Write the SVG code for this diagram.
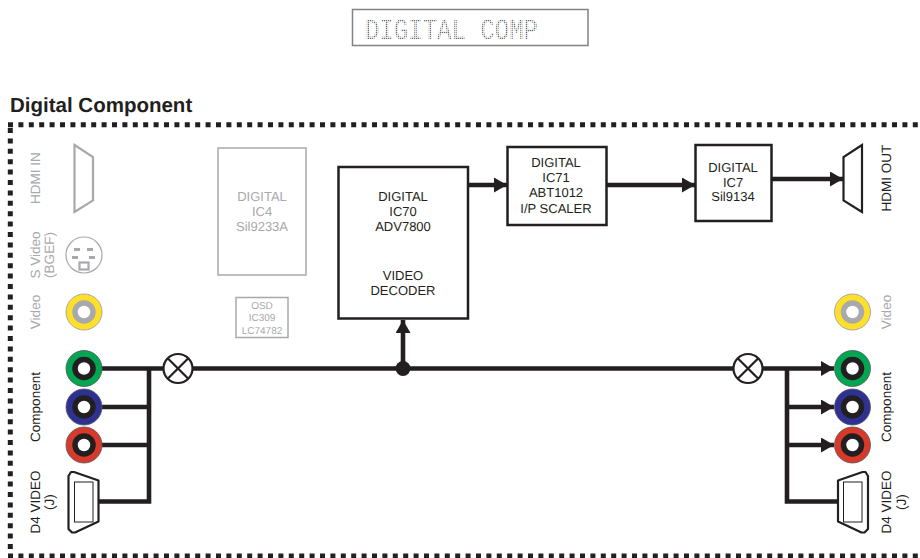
<svg xmlns="http://www.w3.org/2000/svg" width="920" height="558" viewBox="0 0 920 558">
<defs>
<style>
text{font-family:"Liberation Sans",Arial,sans-serif;text-rendering:geometricPrecision}
.k{fill:#231f20}
.g{fill:#a7a9ac}
.t{font-size:13px;text-anchor:middle}
.s{font-size:13.500px;text-anchor:middle}
.box{fill:#fff;stroke:#231f20;stroke-width:2.500}
.gbox{fill:#fff;stroke:#a7a9ac;stroke-width:1.500}
.w{fill:none;stroke:#231f20;stroke-width:4.600}
.dash{fill:none;stroke:#231f20;stroke-width:5;stroke-dasharray:5 5.400}
</style>
<pattern id="dots" patternUnits="userSpaceOnUse" width="2" height="2"><rect width="1.300" height="1.300" fill="#6d6e71"/></pattern>
<marker id="a" markerUnits="userSpaceOnUse" markerWidth="13" markerHeight="15" refX="13" refY="7.500" orient="auto"><path d="M0 0L13 7.500L0 15Z" fill="#231f20"/></marker>
<g id="rca"><circle r="18" fill="currentColor" stroke="#58595b" stroke-width="0.800"/><circle r="9" fill="#fff" stroke="#231f20" stroke-width="5.500"/></g>
</defs>
<rect width="920" height="558" fill="#fff"/>
<g id="display"><rect x="352.500" y="9.500" width="235.500" height="36" fill="#fff" stroke="#808285" stroke-width="1.500"/>
<text x="365" y="39" style="font-family:'Liberation Mono',monospace" font-size="29" textLength="173" lengthAdjust="spacingAndGlyphs" fill="url(#dots)">DIGITAL COMP</text></g>
<text x="10" y="112" font-size="20.500" font-weight="bold" class="k">Digital Component</text>
<g id="frame"><path class="dash" d="M8 124.700H918"/><path class="dash" d="M10.300 128V552"/><path class="dash" d="M8 556H918"/></g>
<g id="connectors">
<path class="w" d="M100 368.500H163M193 368.500H733M763 368.500H834" marker-end="url(#a)"/>
<path class="w" d="M100 407H149M100 445H149M97 501.500H149M149 368.500V503.800"/>
<path class="w" d="M787 368.500V501.500H838"/>
<path class="w" d="M787 407H834" marker-end="url(#a)"/>
<path class="w" d="M787 445H834" marker-end="url(#a)"/>
<path class="w" d="M403 368.500V320" marker-end="url(#a)"/>
<circle cx="403" cy="368.500" r="7.500" class="k"/>
<path class="w" d="M468 185H507" marker-end="url(#a)"/>
<path class="w" d="M607 185H695" marker-end="url(#a)"/>
<path class="w" d="M772 179H843" marker-end="url(#a)"/>
</g>
<g id="mix1" fill="none" stroke="#231f20" stroke-width="2.200"><circle cx="178" cy="368.500" r="14.500" fill="#fff"/><path d="M167.700 358.200L188.300 378.800M188.300 358.200L167.700 378.800"/></g>
<g id="mix2" fill="none" stroke="#231f20" stroke-width="2.200"><circle cx="748" cy="368.500" r="14.500" fill="#fff"/><path d="M737.700 358.200L758.300 378.800M758.300 358.200L737.700 378.800"/></g>
<g id="ic4"><rect class="gbox" x="218" y="148" width="88" height="127"/><g class="t g"><text x="262" y="201">DIGITAL</text><text x="262" y="216">IC4</text><text x="262" y="231">Sil9233A</text></g></g>
<g id="osd"><rect class="gbox" x="236" y="297.500" width="52" height="40"/><g font-size="10" text-anchor="middle" class="g"><text x="262" y="309">OSD</text><text x="262" y="321">IC309</text><text x="262" y="334">LC74782</text></g></g>
<g id="ic70"><rect class="box" x="338.500" y="167" width="129.500" height="151.500"/><g class="t k"><text x="403" y="201">DIGITAL</text><text x="403" y="216">IC70</text><text x="403" y="231">ADV7800</text><text x="403" y="280">VIDEO</text><text x="403" y="295">DECODER</text></g></g>
<g id="ic71"><rect class="box" x="507.500" y="147" width="99" height="78"/><g class="t k"><text x="556" y="167">DIGITAL</text><text x="556" y="182">IC71</text><text x="556" y="197">ABT1012</text><text x="556" y="213">I/P SCALER</text></g></g>
<g id="ic7"><rect class="box" x="695.500" y="145" width="76" height="76"/><g class="t k"><text x="733" y="172">DIGITAL</text><text x="733" y="187">IC7</text><text x="733" y="201">Sil9134</text></g></g>
<g id="hdmi-in"><path d="M74.500 145L93 157V200.500L74.500 212Z" fill="#fff" stroke="#a7a9ac" stroke-width="2.200"/><text transform="translate(40 178) rotate(-90)" class="s g">HDMI IN</text></g>
<g id="hdmi-out"><path d="M862 145L843.500 157V200.500L862 212Z" fill="#fff" stroke="#231f20" stroke-width="2.200"/><text transform="translate(891 178) rotate(-90)" class="s k">HDMI OUT</text></g>
<g id="svideo"><circle cx="84" cy="255" r="18" fill="#fff" stroke="#a7a9ac" stroke-width="1.200"/><g class="g"><rect x="74" y="248" width="6" height="3"/><rect x="87" y="248" width="6" height="3"/><rect x="72" y="256" width="6" height="3"/><rect x="89" y="256" width="6" height="3"/></g><rect x="79.500" y="262.500" width="9" height="7" fill="#fff" stroke="#a7a9ac" stroke-width="2.200"/>
<text class="s g" transform="translate(40 255) rotate(-90)">S Video</text><text class="s g" transform="translate(54 255) rotate(-90)">(BGEF)</text></g>
<g id="video-in"><circle cx="84" cy="312" r="18" fill="#ffe029" stroke="#a7a9ac" stroke-width="1"/><circle cx="84" cy="312" r="9" fill="#fff" stroke="#a7a9ac" stroke-width="5.500"/><text class="s g" transform="translate(40 312) rotate(-90)">Video</text></g>
<g id="video-out"><circle cx="852.500" cy="312" r="18" fill="#ffe029" stroke="#a7a9ac" stroke-width="1"/><circle cx="852.500" cy="312" r="9" fill="#fff" stroke="#a7a9ac" stroke-width="5.500"/><text class="s g" transform="translate(891 312) rotate(-90)">Video</text></g>
<g id="component-in"><use href="#rca" x="84" y="368.500" color="#00a651"/><use href="#rca" x="84" y="407" color="#2e3192"/><use href="#rca" x="84" y="445" color="#d7392b"/><text class="s k" transform="translate(40 407) rotate(-90)">Component</text></g>
<g id="component-out"><use href="#rca" x="852.500" y="368.500" color="#00a651"/><use href="#rca" x="852.500" y="407" color="#2e3192"/><use href="#rca" x="852.500" y="445" color="#d7392b"/><text class="s k" transform="translate(891 407) rotate(-90)">Component</text></g>
<g id="d4-in"><path d="M71 472H74L98.500 480.500V521.500L75 532.500H72L68.500 529V476Z" fill="#fff" stroke="#231f20" stroke-width="2.200" stroke-linejoin="round"/><rect x="74.500" y="482" width="18.500" height="40" fill="#fff" stroke="#231f20" stroke-width="1"/><text class="s k" transform="translate(40 502) rotate(-90)">D4 VIDEO</text><text class="s k" transform="translate(54 502) rotate(-90)">(J)</text></g>
<g id="d4-out"><path d="M865.500 472H862.500L838 480.500V521.500L861.500 532.500H864.500L868 529V476Z" fill="#fff" stroke="#231f20" stroke-width="2.200" stroke-linejoin="round"/><rect x="843.500" y="482" width="18.500" height="40" fill="#fff" stroke="#231f20" stroke-width="1"/><text class="s k" transform="translate(891 502) rotate(-90)">D4 VIDEO</text><text class="s k" transform="translate(906 502) rotate(-90)">(J)</text></g>
</svg>
